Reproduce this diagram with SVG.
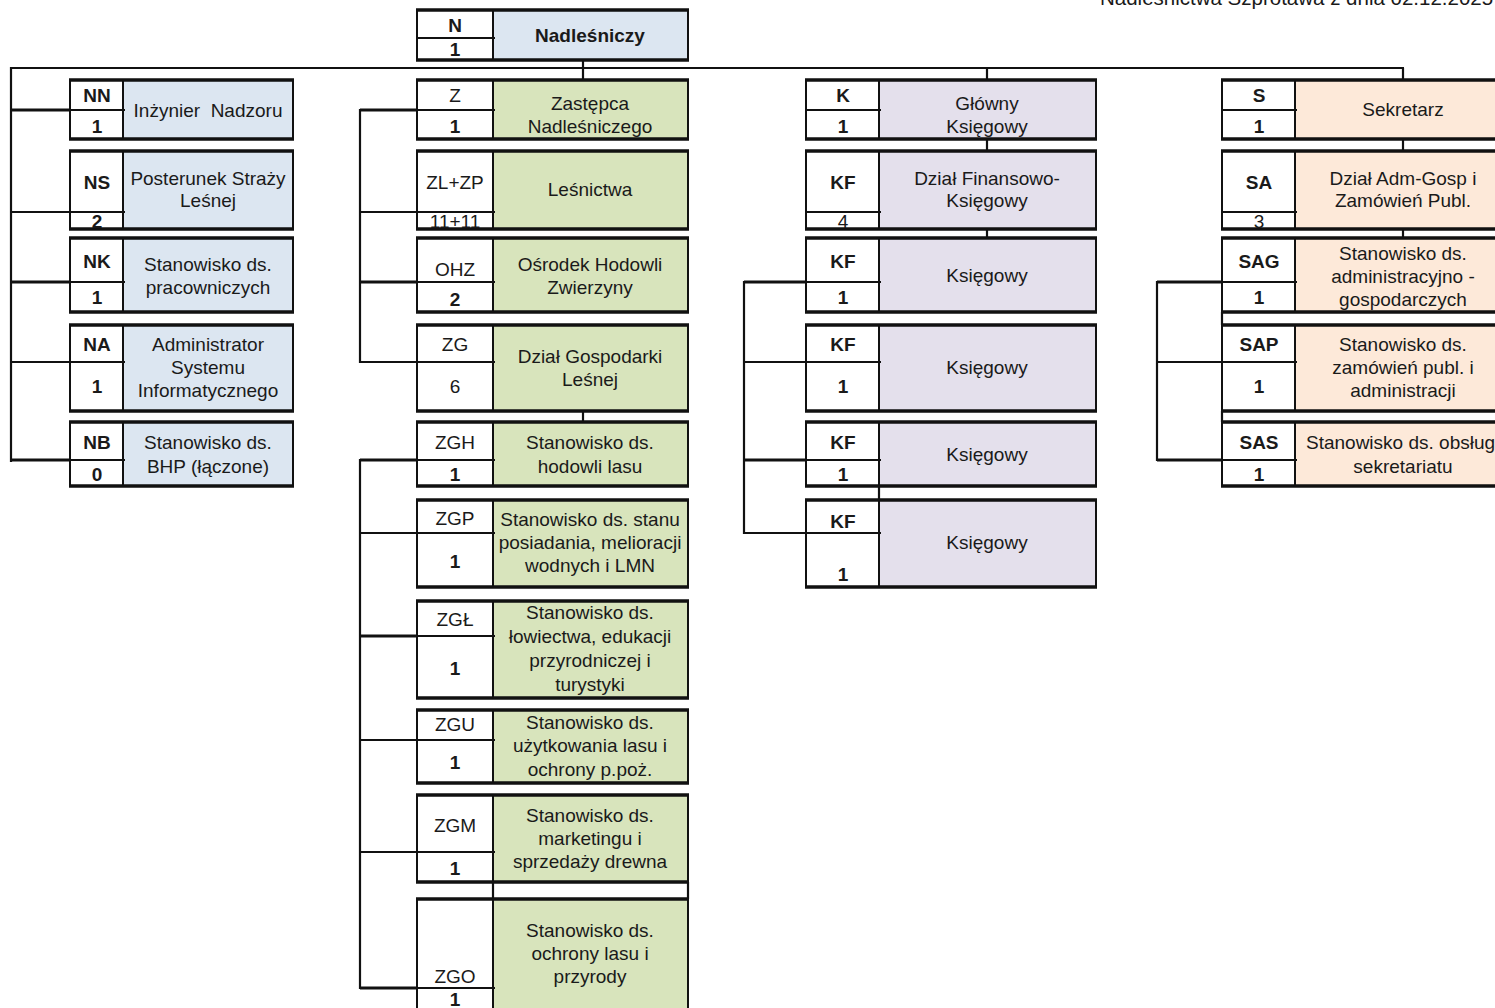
<svg xmlns="http://www.w3.org/2000/svg" width="1495" height="1008" viewBox="0 0 1495 1008">
<style>
text{font-family:"Liberation Sans",Arial,sans-serif;font-size:19px;fill:#1a1a1a;text-anchor:middle}
.b{font-weight:bold}
.c{fill:#fff;stroke:#111;stroke-width:2}
.bl{fill:#dce6f1;stroke:#111;stroke-width:2}
.gr{fill:#d8e4bc;stroke:#111;stroke-width:2}
.lv{fill:#e4e0ec;stroke:#111;stroke-width:2}
.pc{fill:#fde9d9;stroke:#111;stroke-width:2}
.sp{stroke:#111;stroke-width:2}
.tb{stroke:#111;stroke-width:3.5}
.cn line{stroke:#111;stroke-width:2.2}
</style>
<rect width="1495" height="1008" fill="#fff"/>
<text x="1100" y="5" style="text-anchor:start;font-size:20.5px">Nadleśnictwa Szprotawa z dnia 02.12.2025</text>

<g class="cn" id="connectors">
<line x1="10" y1="68" x2="1404" y2="68"/>
<line x1="583" y1="60" x2="583" y2="80"/>
<line x1="987" y1="68" x2="987" y2="80"/>
<line x1="1403" y1="68" x2="1403" y2="80"/>
<line x1="11" y1="67" x2="11" y2="462"/>
<line x1="11" y1="110" x2="70" y2="110" style="stroke-width:3"/>
<line x1="11" y1="212" x2="70" y2="212"/>
<line x1="11" y1="282" x2="70" y2="282" style="stroke-width:3"/>
<line x1="11" y1="362" x2="70" y2="362"/>
<line x1="11" y1="460" x2="70" y2="460" style="stroke-width:3"/>
<line x1="360" y1="109" x2="360" y2="363"/>
<line x1="360" y1="110" x2="417" y2="110" style="stroke-width:3"/>
<line x1="360" y1="212" x2="417" y2="212"/>
<line x1="360" y1="282" x2="417" y2="282" style="stroke-width:3"/>
<line x1="360" y1="362" x2="417" y2="362"/>
<line x1="583" y1="411" x2="583" y2="422"/>
<line x1="360" y1="459" x2="360" y2="989"/>
<line x1="360" y1="460" x2="417" y2="460" style="stroke-width:3"/>
<line x1="360" y1="533" x2="417" y2="533"/>
<line x1="360" y1="636" x2="417" y2="636" style="stroke-width:3"/>
<line x1="360" y1="740" x2="417" y2="740"/>
<line x1="360" y1="852" x2="417" y2="852"/>
<line x1="360" y1="988" x2="417" y2="988" style="stroke-width:3"/>
<line x1="987" y1="139" x2="987" y2="151"/>
<line x1="987" y1="229" x2="987" y2="238"/>
<line x1="744" y1="281" x2="744" y2="534"/>
<line x1="744" y1="282" x2="806" y2="282" style="stroke-width:3"/>
<line x1="744" y1="362" x2="806" y2="362"/>
<line x1="744" y1="460" x2="806" y2="460" style="stroke-width:3"/>
<line x1="744" y1="533" x2="806" y2="533"/>
<line x1="879" y1="486" x2="879" y2="500"/>
<line x1="1403" y1="139" x2="1403" y2="151"/>
<line x1="1403" y1="229" x2="1403" y2="238"/>
<line x1="1157" y1="281" x2="1157" y2="461"/>
<line x1="1157" y1="282" x2="1222" y2="282" style="stroke-width:3"/>
<line x1="1157" y1="362" x2="1222" y2="362"/>
<line x1="1157" y1="460" x2="1222" y2="460" style="stroke-width:3"/>
<line x1="1222" y1="312" x2="1222" y2="325"/>
<line x1="1222" y1="411" x2="1222" y2="422"/>
<line x1="493" y1="882" x2="493" y2="899"/>
<line x1="688" y1="882" x2="688" y2="899"/>
</g>

<!-- Nadleśniczy -->
<g id="N">
<rect class="c" x="417" y="10" width="76" height="50"/><rect class="bl" x="493" y="10" width="195" height="50"/>
<line class="sp" x1="417" y1="38" x2="495" y2="38"/>
<line class="tb" x1="416" y1="10" x2="689" y2="10"/><line class="tb" x1="416" y1="60" x2="689" y2="60"/>
<text class="b" x="455" y="32">N</text><text class="b" x="455" y="56">1</text>
<text class="b" x="590" y="42">Nadleśniczy</text>
</g>

<!-- left column -->
<g id="NN">
<rect class="c" x="70" y="80" width="53" height="59"/><rect class="bl" x="123" y="80" width="170" height="59"/>
<line class="sp" x1="70" y1="110" x2="125" y2="110"/>
<line class="tb" x1="69" y1="80" x2="294" y2="80"/><line class="tb" x1="69" y1="139" x2="294" y2="139"/>
<text class="b" x="97" y="102">NN</text><text class="b" x="97" y="133">1</text>
<text x="208" y="117" xml:space="preserve">Inżynier  Nadzoru</text>
</g>
<g id="NS">
<rect class="c" x="70" y="151" width="53" height="78"/><rect class="bl" x="123" y="151" width="170" height="78"/>
<line class="sp" x1="70" y1="212" x2="125" y2="212"/>
<line class="tb" x1="69" y1="151" x2="294" y2="151"/><line class="tb" x1="69" y1="229" x2="294" y2="229"/>
<text class="b" x="97" y="189">NS</text><text class="b" x="97" y="228">2</text>
<text x="208" y="185">Posterunek Straży</text><text x="208" y="207">Leśnej</text>
</g>
<g id="NK">
<rect class="c" x="70" y="238" width="53" height="74"/><rect class="bl" x="123" y="238" width="170" height="74"/>
<line class="sp" x1="70" y1="282" x2="125" y2="282"/>
<line class="tb" x1="69" y1="238" x2="294" y2="238"/><line class="tb" x1="69" y1="312" x2="294" y2="312"/>
<text class="b" x="97" y="268">NK</text><text class="b" x="97" y="304">1</text>
<text x="208" y="271">Stanowisko ds.</text><text x="208" y="294">pracowniczych</text>
</g>
<g id="NA">
<rect class="c" x="70" y="325" width="53" height="86"/><rect class="bl" x="123" y="325" width="170" height="86"/>
<line class="sp" x1="70" y1="362" x2="125" y2="362"/>
<line class="tb" x1="69" y1="325" x2="294" y2="325"/><line class="tb" x1="69" y1="411" x2="294" y2="411"/>
<text class="b" x="97" y="351">NA</text><text class="b" x="97" y="393">1</text>
<text x="208" y="351">Administrator</text><text x="208" y="374">Systemu</text><text x="208" y="397">Informatycznego</text>
</g>
<g id="NB">
<rect class="c" x="70" y="422" width="53" height="64"/><rect class="bl" x="123" y="422" width="170" height="64"/>
<line class="sp" x1="70" y1="460" x2="125" y2="460"/>
<line class="tb" x1="69" y1="422" x2="294" y2="422"/><line class="tb" x1="69" y1="486" x2="294" y2="486"/>
<text class="b" x="97" y="449">NB</text><text class="b" x="97" y="481">0</text>
<text x="208" y="449">Stanowisko ds.</text><text x="208" y="473">BHP (łączone)</text>
</g>

<!-- middle column -->
<g id="Z">
<rect class="c" x="417" y="80" width="76" height="59"/><rect class="gr" x="493" y="80" width="195" height="59"/>
<line class="sp" x1="417" y1="110" x2="495" y2="110"/>
<line class="tb" x1="416" y1="80" x2="689" y2="80"/><line class="tb" x1="416" y1="139" x2="689" y2="139"/>
<text x="455" y="102">Z</text><text class="b" x="455" y="133">1</text>
<text x="590" y="110">Zastępca</text><text x="590" y="133">Nadleśniczego</text>
</g>
<g id="ZLZP">
<rect class="c" x="417" y="151" width="76" height="78"/><rect class="gr" x="493" y="151" width="195" height="78"/>
<line class="sp" x1="417" y1="212" x2="495" y2="212"/>
<line class="tb" x1="416" y1="151" x2="689" y2="151"/><line class="tb" x1="416" y1="229" x2="689" y2="229"/>
<text x="455" y="189">ZL+ZP</text><text x="455" y="228">11+11</text>
<text x="590" y="196">Leśnictwa</text>
</g>
<g id="OHZ">
<rect class="c" x="417" y="238" width="76" height="74"/><rect class="gr" x="493" y="238" width="195" height="74"/>
<line class="sp" x1="417" y1="282" x2="495" y2="282"/>
<line class="tb" x1="416" y1="238" x2="689" y2="238"/><line class="tb" x1="416" y1="312" x2="689" y2="312"/>
<text x="455" y="276">OHZ</text><text class="b" x="455" y="306">2</text>
<text x="590" y="271">Ośrodek Hodowli</text><text x="590" y="294">Zwierzyny</text>
</g>
<g id="ZG">
<rect class="c" x="417" y="325" width="76" height="86"/><rect class="gr" x="493" y="325" width="195" height="86"/>
<line class="sp" x1="417" y1="362" x2="495" y2="362"/>
<line class="tb" x1="416" y1="325" x2="689" y2="325"/><line class="tb" x1="416" y1="411" x2="689" y2="411"/>
<text x="455" y="351">ZG</text><text x="455" y="393">6</text>
<text x="590" y="363">Dział Gospodarki</text><text x="590" y="386">Leśnej</text>
</g>
<g id="ZGH">
<rect class="c" x="417" y="422" width="76" height="64"/><rect class="gr" x="493" y="422" width="195" height="64"/>
<line class="sp" x1="417" y1="460" x2="495" y2="460"/>
<line class="tb" x1="416" y1="422" x2="689" y2="422"/><line class="tb" x1="416" y1="486" x2="689" y2="486"/>
<text x="455" y="449">ZGH</text><text class="b" x="455" y="481">1</text>
<text x="590" y="449">Stanowisko ds.</text><text x="590" y="473">hodowli lasu</text>
</g>
<g id="ZGP">
<rect class="c" x="417" y="500" width="76" height="87"/><rect class="gr" x="493" y="500" width="195" height="87"/>
<line class="sp" x1="417" y1="533" x2="495" y2="533"/>
<line class="tb" x1="416" y1="500" x2="689" y2="500"/><line class="tb" x1="416" y1="587" x2="689" y2="587"/>
<text x="455" y="525">ZGP</text><text class="b" x="455" y="568">1</text>
<text x="590" y="526">Stanowisko ds. stanu</text><text x="590" y="549">posiadania, melioracji</text><text x="590" y="572">wodnych i LMN</text>
</g>
<g id="ZGL">
<rect class="c" x="417" y="601" width="76" height="97"/><rect class="gr" x="493" y="601" width="195" height="97"/>
<line class="sp" x1="417" y1="636" x2="495" y2="636"/>
<line class="tb" x1="416" y1="601" x2="689" y2="601"/><line class="tb" x1="416" y1="698" x2="689" y2="698"/>
<text x="455" y="626">ZGŁ</text><text class="b" x="455" y="675">1</text>
<text x="590" y="619">Stanowisko ds.</text><text x="590" y="643">łowiectwa, edukacji</text><text x="590" y="667">przyrodniczej i</text><text x="590" y="691">turystyki</text>
</g>
<g id="ZGU">
<rect class="c" x="417" y="710" width="76" height="73"/><rect class="gr" x="493" y="710" width="195" height="73"/>
<line class="sp" x1="417" y1="740" x2="495" y2="740"/>
<line class="tb" x1="416" y1="710" x2="689" y2="710"/><line class="tb" x1="416" y1="783" x2="689" y2="783"/>
<text x="455" y="731">ZGU</text><text class="b" x="455" y="769">1</text>
<text x="590" y="729">Stanowisko ds.</text><text x="590" y="752">użytkowania lasu i</text><text x="590" y="776">ochrony p.poż.</text>
</g>
<g id="ZGM">
<rect class="c" x="417" y="795" width="76" height="87"/><rect class="gr" x="493" y="795" width="195" height="87"/>
<line class="sp" x1="417" y1="852" x2="495" y2="852"/>
<line class="tb" x1="416" y1="795" x2="689" y2="795"/><line class="tb" x1="416" y1="882" x2="689" y2="882"/>
<text x="455" y="832">ZGM</text><text class="b" x="455" y="875">1</text>
<text x="590" y="822">Stanowisko ds.</text><text x="590" y="845">marketingu i</text><text x="590" y="868">sprzedaży drewna</text>
</g>
<g id="ZGO">
<rect class="c" x="417" y="899" width="76" height="116"/><rect class="gr" x="493" y="899" width="195" height="116"/>
<line class="sp" x1="417" y1="988" x2="495" y2="988"/>
<line class="tb" x1="416" y1="899" x2="689" y2="899"/>
<text x="455" y="983">ZGO</text><text class="b" x="455" y="1006">1</text>
<text x="590" y="937">Stanowisko ds.</text><text x="590" y="960">ochrony lasu i</text><text x="590" y="983">przyrody</text>
</g>

<!-- K column -->
<g id="K">
<rect class="c" x="806" y="80" width="73" height="59"/><rect class="lv" x="879" y="80" width="217" height="59"/>
<line class="sp" x1="806" y1="110" x2="881" y2="110"/>
<line class="tb" x1="805" y1="80" x2="1097" y2="80"/><line class="tb" x1="805" y1="139" x2="1097" y2="139"/>
<text class="b" x="843" y="102">K</text><text class="b" x="843" y="133">1</text>
<text x="987" y="110">Główny</text><text x="987" y="133">Księgowy</text>
</g>
<g id="KF">
<rect class="c" x="806" y="151" width="73" height="78"/><rect class="lv" x="879" y="151" width="217" height="78"/>
<line class="sp" x1="806" y1="212" x2="881" y2="212"/>
<line class="tb" x1="805" y1="151" x2="1097" y2="151"/><line class="tb" x1="805" y1="229" x2="1097" y2="229"/>
<text class="b" x="843" y="189">KF</text><text x="843" y="228">4</text>
<text x="987" y="185">Dział Finansowo-</text><text x="987" y="207">Księgowy</text>
</g>
<g id="KF1">
<rect class="c" x="806" y="238" width="73" height="74"/><rect class="lv" x="879" y="238" width="217" height="74"/>
<line class="sp" x1="806" y1="282" x2="881" y2="282"/>
<line class="tb" x1="805" y1="238" x2="1097" y2="238"/><line class="tb" x1="805" y1="312" x2="1097" y2="312"/>
<text class="b" x="843" y="268">KF</text><text class="b" x="843" y="304">1</text>
<text x="987" y="282">Księgowy</text>
</g>
<g id="KF2">
<rect class="c" x="806" y="325" width="73" height="86"/><rect class="lv" x="879" y="325" width="217" height="86"/>
<line class="sp" x1="806" y1="362" x2="881" y2="362"/>
<line class="tb" x1="805" y1="325" x2="1097" y2="325"/><line class="tb" x1="805" y1="411" x2="1097" y2="411"/>
<text class="b" x="843" y="351">KF</text><text class="b" x="843" y="393">1</text>
<text x="987" y="374">Księgowy</text>
</g>
<g id="KF3">
<rect class="c" x="806" y="422" width="73" height="64"/><rect class="lv" x="879" y="422" width="217" height="64"/>
<line class="sp" x1="806" y1="460" x2="881" y2="460"/>
<line class="tb" x1="805" y1="422" x2="1097" y2="422"/><line class="tb" x1="805" y1="486" x2="1097" y2="486"/>
<text class="b" x="843" y="449">KF</text><text class="b" x="843" y="481">1</text>
<text x="987" y="461">Księgowy</text>
</g>
<g id="KF4">
<rect class="c" x="806" y="500" width="73" height="87"/><rect class="lv" x="879" y="500" width="217" height="87"/>
<line class="sp" x1="806" y1="533" x2="881" y2="533"/>
<line class="tb" x1="805" y1="500" x2="1097" y2="500"/><line class="tb" x1="805" y1="587" x2="1097" y2="587"/>
<text class="b" x="843" y="528">KF</text><text class="b" x="843" y="581">1</text>
<text x="987" y="549">Księgowy</text>
</g>

<!-- S column -->
<g id="S">
<rect class="c" x="1222" y="80" width="73" height="59"/><rect class="pc" x="1295" y="80" width="220" height="59"/>
<line class="sp" x1="1222" y1="110" x2="1297" y2="110"/>
<line class="tb" x1="1221" y1="80" x2="1495" y2="80"/><line class="tb" x1="1221" y1="139" x2="1495" y2="139"/>
<text class="b" x="1259" y="102">S</text><text class="b" x="1259" y="133">1</text>
<text x="1403" y="116">Sekretarz</text>
</g>
<g id="SA">
<rect class="c" x="1222" y="151" width="73" height="78"/><rect class="pc" x="1295" y="151" width="220" height="78"/>
<line class="sp" x1="1222" y1="212" x2="1297" y2="212"/>
<line class="tb" x1="1221" y1="151" x2="1495" y2="151"/><line class="tb" x1="1221" y1="229" x2="1495" y2="229"/>
<text class="b" x="1259" y="189">SA</text><text x="1259" y="228">3</text>
<text x="1403" y="185">Dział Adm-Gosp i</text><text x="1403" y="207">Zamówień Publ.</text>
</g>
<g id="SAG">
<rect class="c" x="1222" y="238" width="73" height="74"/><rect class="pc" x="1295" y="238" width="220" height="74"/>
<line class="sp" x1="1222" y1="282" x2="1297" y2="282"/>
<line class="tb" x1="1221" y1="238" x2="1495" y2="238"/><line class="tb" x1="1221" y1="312" x2="1495" y2="312"/>
<text class="b" x="1259" y="268">SAG</text><text class="b" x="1259" y="304">1</text>
<text x="1403" y="260">Stanowisko ds.</text><text x="1403" y="283">administracyjno -</text><text x="1403" y="306">gospodarczych</text>
</g>
<g id="SAP">
<rect class="c" x="1222" y="325" width="73" height="86"/><rect class="pc" x="1295" y="325" width="220" height="86"/>
<line class="sp" x1="1222" y1="362" x2="1297" y2="362"/>
<line class="tb" x1="1221" y1="325" x2="1495" y2="325"/><line class="tb" x1="1221" y1="411" x2="1495" y2="411"/>
<text class="b" x="1259" y="351">SAP</text><text class="b" x="1259" y="393">1</text>
<text x="1403" y="351">Stanowisko ds.</text><text x="1403" y="374">zamówień publ. i</text><text x="1403" y="397">administracji</text>
</g>
<g id="SAS">
<rect class="c" x="1222" y="422" width="73" height="64"/><rect class="pc" x="1295" y="422" width="220" height="64"/>
<line class="sp" x1="1222" y1="460" x2="1297" y2="460"/>
<line class="tb" x1="1221" y1="422" x2="1495" y2="422"/><line class="tb" x1="1221" y1="486" x2="1495" y2="486"/>
<text class="b" x="1259" y="449">SAS</text><text class="b" x="1259" y="481">1</text>
<text x="1306" y="449" style="text-anchor:start">Stanowisko ds. obsług</text><text x="1403" y="473">sekretariatu</text>
</g>
</svg>
